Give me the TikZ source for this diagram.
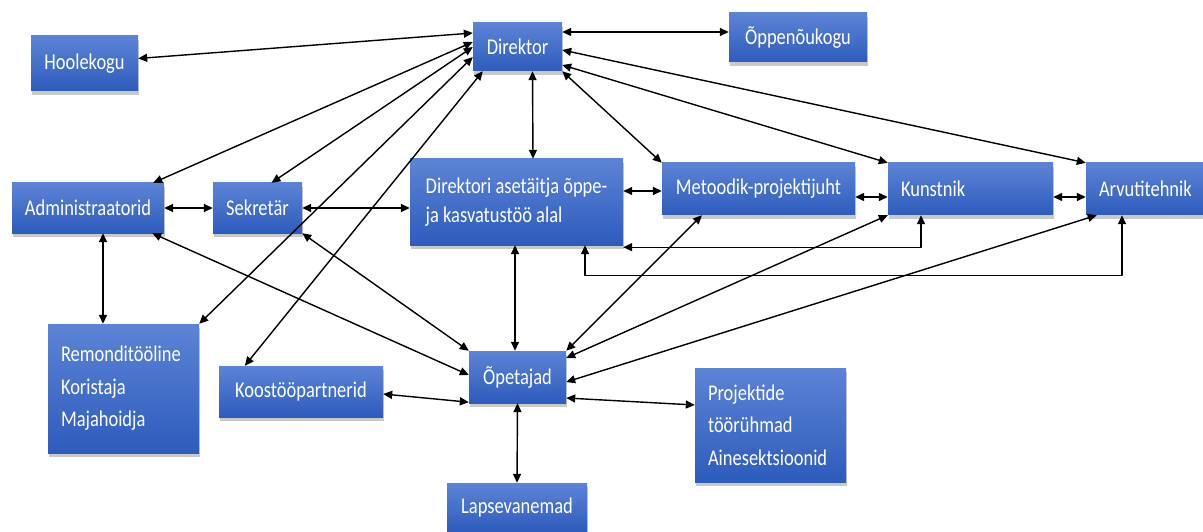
\documentclass[tikz,border=0pt]{standalone}
\usepackage{fontspec}
\newfontfamily\boxfont[FakeStretch=0.82]{Carlito}
\usetikzlibrary{arrows.meta,shadows}
\definecolor{boxtop}{RGB}{92,131,214}
\definecolor{boxbot}{RGB}{46,92,188}

\begin{document}
\begin{tikzpicture}[line cap=round,line join=round,>={Triangle[length=9pt,width=8pt]},x=1pt,y=-1pt,
  unit/.style={top color=boxtop,bottom color=boxbot,draw=none,text=white,inner sep=0pt,
    font=\boxfont\fontsize{22.5}{32.5}\selectfont,
    drop shadow={shadow xshift=1pt,shadow yshift=-4pt,opacity=0.3,fill=black!70}},
  lunit/.style={unit,inner xsep=13pt,text width=#1,align=left},
  link/.style={<->,line width=1.4pt}]
	\useasboundingbox (0,0) rectangle (1203,532);
	\clip (0,0) rectangle (1203,532);
	\node[unit,minimum width=107pt,minimum height=55pt] (hool) at (84.5,63.5) {Hoolekogu};
	\node[unit,minimum width=89pt,minimum height=48pt] (dir) at (517.5,47) {Direktor};
	\node[unit,minimum width=138pt,minimum height=49pt] (opn) at (798,37.5) {Õppenõukogu};
	\node[unit,minimum width=152pt,minimum height=50pt] (adm) at (88,208) {Administraatorid};
	\node[unit,minimum width=89pt,minimum height=50pt] (sek) at (257.5,208) {Sekretär};
	\node[unit,minimum width=213pt,minimum height=86pt,align=left,font=\boxfont\fontsize{22.5}{29}\selectfont] (ase) at (516.5,202) {Direktori asetäitja õppe-\\ja kasvatustöö alal};
	\node[unit,minimum width=193pt,minimum height=52pt] (met) at (758.5,189) {Metoodik-projektijuht};
	\node[lunit=139pt,minimum height=52pt] (kun) at (970.5,189) {Kunstnik};
	\node[lunit=103pt,minimum height=52pt] (arv) at (1150.5,189) {Arvutitehnik};
	\node[lunit=125pt,minimum height=129pt] (rem) at (123.5,388.5) {Remonditööline\\Koristaja\\Majahoidja};
	\node[unit,minimum width=164pt,minimum height=51pt] (koo) at (301,391.5) {Koostööpartnerid};
	\node[unit,minimum width=97pt,minimum height=52pt] (ope) at (517.5,377) {Õpetajad};
	\node[lunit=125pt,minimum height=114pt] (pro) at (770.5,425) {Projektide\\töörühmad\\Ainesektsioonid};
	\node[unit,minimum width=140pt,minimum height=49pt] (lap) at (517,507.5) {Lapsevanemad};
	\draw[link] ([yshift=5pt]hool.east) -- ([yshift=14pt]dir.west);
	\draw[link] ([xshift=-11pt]adm.north east) -- ([yshift=5pt]dir.west);
	\draw[link] ([xshift=14pt]sek.north) -- (dir.west);
	\draw[link] (rem.north east) -- ([yshift=-10pt]dir.west);
	\draw[link] ([xshift=26pt]koo.north west) -- ([xshift=10pt]dir.south west);
	\draw[link] ([yshift=15pt]dir.east) -- ([yshift=5.5pt]opn.west);
	\draw[link] ([yshift=-3pt]dir.east) -- (arv.north west);
	\draw[link] ([yshift=-18pt]dir.east) -- (kun.north west);
	\draw[link] (dir.south east) -- (met.north west);
	\draw[link] ([xshift=15pt]dir.south) -- ([xshift=16.5pt]ase.north);
	\draw[link] (adm.east) -- (sek.west);
	\draw[link] (sek.east) -- ([yshift=-6pt]ase.west);
	\draw[link] ([yshift=11pt]ase.east) -- ([yshift=-2pt]met.west);
	\draw[link] ([yshift=-8pt]met.east) -- ([yshift=-8pt]kun.west);
	\draw[link] ([yshift=-8pt]kun.east) -- ([yshift=-8pt]arv.west);
	\draw[link] ([xshift=-49.5pt]kun.south) |- ([yshift=-2pt]ase.south east);
	\draw[link] ([xshift=-28.5pt]arv.south) -- ++(0,60) -| ([xshift=68.5pt]ase.south);
	\draw[link] ([xshift=15pt]adm.south) -- ([xshift=-20.5pt]rem.north);
	\draw[link] ([xshift=-12pt]adm.south east) -- ([yshift=2pt]ope.west);
	\draw[link] (sek.south east) -- (ope.north west);
	\draw[link] ([xshift=-1.5pt]ase.south) -- ([xshift=-2.5pt]ope.north);
	\draw[link] ([xshift=-56.5pt]met.south) -- (ope.north east);
	\draw[link] (kun.south west) -- ([yshift=19pt]ope.east);
	\draw[link] ([xshift=11pt]arv.south west) -- ([yshift=-5pt]ope.east);
	\draw[link] ([yshift=-2.5pt]koo.east) -- ([yshift=1pt]ope.south west);
	\draw[link] ([yshift=-21pt]ope.east) -- ([yshift=20pt]pro.west);
	\draw[link] (ope.south) -- (lap.north);
\end{tikzpicture}
\end{document}
